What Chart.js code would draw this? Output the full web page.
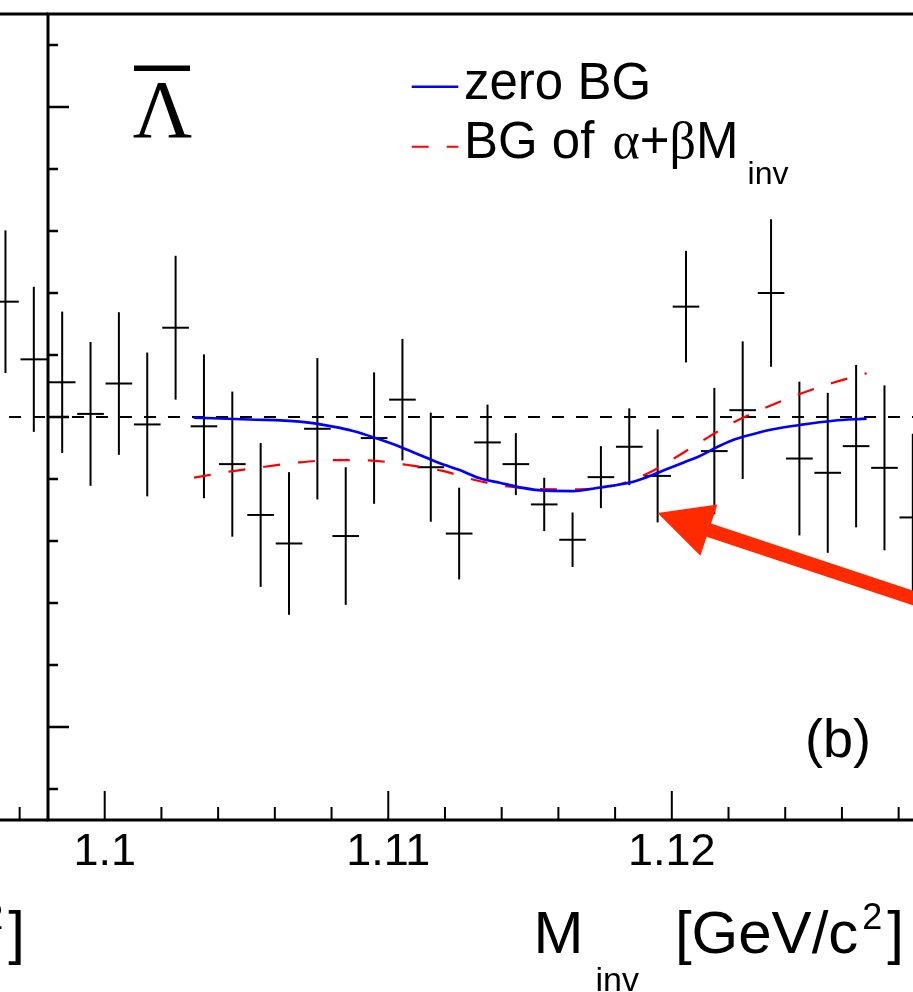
<!DOCTYPE html>
<html>
<head>
<meta charset="utf-8">
<script src="https://cdn.jsdelivr.net/npm/chart.js@4.4.1/dist/chart.umd.min.js"></script>
<style>
  html, body { margin: 0; padding: 0; background: #fff; overflow: hidden; }
  #stage { position: relative; width: 913px; height: 992px; overflow: hidden; background: #fff; }
  .pad { position: absolute; top: 0; }
  .pad canvas { display: block; }
</style>
</head>
<body>
<div id="stage">
  <div class="pad" style="left:-831px;"><canvas id="panelA" width="879" height="992"></canvas></div>
  <div class="pad" style="left:0px;"><canvas id="panelB" width="927" height="992"></canvas></div>
</div>
<script>
// ---- fonts ----
const SANS = '"Liberation Sans", Arial, Helvetica, sans-serif';
const SERIF = '"Liberation Serif", "Times New Roman", Times, serif';

// ---- panel (a): the last two bins of the neighbouring pad ----
const A_MASS  = [1.1275, 1.1285];
const A_RATIO = [1.186, 1.093];
const A_ERR   = [0.115, 0.117];

// ---- panel (b): anti-Lambda ratio per 1 MeV bin ----
const B_MASS = [
  1.0985, 1.0995, 1.1005, 1.1015, 1.1025, 1.1035, 1.1045, 1.1055, 1.1065, 1.1075,
  1.1085, 1.1095, 1.1105, 1.1115, 1.1125, 1.1135, 1.1145, 1.1155, 1.1165, 1.1175,
  1.1185, 1.1195, 1.1205, 1.1215, 1.1225, 1.1235, 1.1245, 1.1255, 1.1265, 1.1275,
  1.1285
];
const B_RATIO = [
  1.056, 1.005, 1.054, 0.988, 1.144, 0.985, 0.924, 0.842, 0.796, 0.981,
  0.808, 0.966, 1.028, 0.919, 0.812, 0.959, 0.924, 0.859, 0.802, 0.903,
  0.952, 0.905, 1.178, 0.945, 1.011, 1.200, 0.933, 0.910, 0.953, 0.918,
  0.838
];
const B_ERR = [
  0.114, 0.116, 0.115, 0.116, 0.116, 0.116, 0.117, 0.116, 0.115, 0.114,
  0.111, 0.106, 0.098, 0.088, 0.074, 0.061, 0.050, 0.043, 0.044, 0.050,
  0.062, 0.075, 0.090, 0.102, 0.111, 0.119, 0.124, 0.129, 0.131, 0.133,
  0.135
];
const BIN_WIDTH = 0.001;

// ---- fit curves ----
const ZERO_BG_MASS = [
  1.10314, 1.10511, 1.10688, 1.10805, 1.10876, 1.10958, 1.11041, 1.11111, 1.11182, 1.11252,
  1.11323, 1.11393, 1.11464, 1.11558, 1.11652, 1.11746, 1.11864, 1.11922, 1.11981, 1.12040,
  1.12099, 1.12158, 1.12216, 1.12275, 1.12357, 1.12451, 1.12569, 1.12687
];
const ZERO_BG_RATIO = [
  0.9989, 0.9960, 0.9924, 0.9844, 0.9774, 0.9656, 0.9521, 0.9387, 0.9253, 0.9145,
  0.9011, 0.8940, 0.8866, 0.8811, 0.8806, 0.8863, 0.8956, 0.9048, 0.9156, 0.9263,
  0.9371, 0.9511, 0.9629, 0.9710, 0.9802, 0.9871, 0.9940, 0.9973
];
const LIN_BG_MASS = [
  1.10315, 1.10438, 1.10564, 1.10688, 1.10817, 1.10946, 1.11070, 1.11188, 1.11305, 1.11422,
  1.11534, 1.11675, 1.11805, 1.11916, 1.12022, 1.12122, 1.12222, 1.12334, 1.12451, 1.12569,
  1.12687
];
const LIN_BG_RATIO = [
  0.9021, 0.9118, 0.9198, 0.9269, 0.9306, 0.9295, 0.9226, 0.9134, 0.8984, 0.8879,
  0.8839, 0.8834, 0.8903, 0.9092, 0.9371, 0.9656, 0.9924, 1.0156, 1.0371, 1.0553,
  1.0705
];

// ---- axes ----
const REF_LEVEL = 1;
const X_RANGE = [1.098, 1.129];
const Y_RANGE = [0.35, 1.65];
const X_MAJOR_TICKS = [1.10, 1.11, 1.12];
const X_TICK_LABELS = ['1.1', '1.11', '1.12'];
const X_MINOR_STEP = 0.002;
const Y_MAJOR_TICKS = [0.5, 1.0, 1.5];
const Y_MINOR_STEP = 0.1;

// ---- annotation arrow (data coordinates) ----
const ARROW_FROM = [1.1295, 0.693];
const ARROW_TO   = [1.1195, 0.845];

// ---------------------------------------------------------------
function points(mass, ratio, err) {
  return mass.map((m, i) => ({ x: m, y: ratio[i], e: err[i] }));
}
function curve(mass, ratio) {
  return mass.map((m, i) => ({ x: m, y: ratio[i] }));
}

// vertical error bars and horizontal bin-width bars, drawn as 'line' point markers
function errorBarDatasets(pts) {
  const common = {
    data: pts, showLine: false, pointStyle: 'line',
    pointBorderColor: '#000', pointBackgroundColor: '#000', pointBorderWidth: 2,
    pointHoverRadius: 0, clip: 0, order: 2
  };
  return [
    Object.assign({}, common, {
      pointRotation: 90,
      pointRadius: c => {
        const p = c.raw; const ys = c.chart.scales.y;
        if (!p) return 0;
        return Math.abs(ys.getPixelForValue(p.y - p.e) - ys.getPixelForValue(p.y + p.e)) / 2;
      }
    }),
    Object.assign({}, common, {
      pointRotation: 0,
      pointRadius: c => {
        const p = c.raw; const xs = c.chart.scales.x;
        if (!p) return 0;
        return Math.abs(xs.getPixelForValue(p.x + BIN_WIDTH * 0.47) - xs.getPixelForValue(p.x - BIN_WIDTH * 0.47)) / 2;
      }
    })
  ];
}

function drawRich(ctx, segs, x, y, align) {
  let total = 0;
  const widths = segs.map(s => {
    ctx.font = s.font;
    const w = ctx.measureText(s.text).width;
    total += (s.gap || 0) + w;
    return w;
  });
  let cx = align === 'right' ? x - total : x;
  ctx.textAlign = 'left';
  ctx.textBaseline = 'alphabetic';
  segs.forEach((s, i) => {
    cx += s.gap || 0;
    ctx.font = s.font;
    ctx.fillText(s.text, cx, y + (s.dy || 0));
    cx += widths[i];
  });
}

function stepValues(min, max, step) {
  const out = [];
  const i0 = Math.ceil(min / step - 1e-6), i1 = Math.floor(max / step + 1e-6);
  for (let i = i0; i <= i1; i++) out.push(+(i * step).toFixed(6));
  return out;
}
const isMajor = (v, list) => list.some(m => Math.abs(m - v) < 1e-6);

const axisTitle = [
  { text: 'M', font: `60px ${SANS}` },
  { text: 'inv', font: `34px ${SANS}`, dy: 38, gap: 12 },
  { text: '[GeV/c', font: `60px ${SANS}`, gap: 36 },
  { text: '2', font: `36px ${SANS}`, dy: -24, gap: 4 },
  { text: ']', font: `60px ${SANS}`, gap: 5 }
];

const rootFrame = {
  id: 'rootFrame',
  beforeDatasetsDraw(chart) {
    const { ctx, chartArea: a, scales: { y } } = chart;
    const yr = y.getPixelForValue(REF_LEVEL);
    ctx.save();
    ctx.strokeStyle = '#000';
    ctx.lineWidth = 2;
    ctx.setLineDash([12, 12]);
    ctx.beginPath();
    ctx.moveTo(a.left, yr);
    ctx.lineTo(a.right, yr);
    ctx.stroke();
    ctx.restore();
  },
  afterDatasetsDraw(chart, args, opts) {
    const { ctx, chartArea: a, scales: { x, y } } = chart;
    ctx.save();
    ctx.strokeStyle = '#000';
    ctx.fillStyle = '#000';
    ctx.setLineDash([]);

    // frame: top edge, x axis, y axis
    ctx.lineWidth = 3;
    ctx.beginPath();
    ctx.moveTo(a.left, a.top); ctx.lineTo(a.right, a.top);
    ctx.moveTo(a.left, a.bottom); ctx.lineTo(a.right, a.bottom);
    ctx.moveTo(a.left, a.top - 1.5); ctx.lineTo(a.left, a.bottom + 1.5);
    ctx.stroke();

    // x ticks (pointing into the frame)
    ctx.lineWidth = 2;
    ctx.beginPath();
    stepValues(X_RANGE[0], X_RANGE[1], X_MINOR_STEP).forEach(v => {
      const px = x.getPixelForValue(v);
      const len = isMajor(v, X_MAJOR_TICKS) ? 29 : 13;
      ctx.moveTo(px, a.bottom); ctx.lineTo(px, a.bottom - len);
    });
    ctx.stroke();

    // y ticks
    ctx.lineWidth = 2.5;
    ctx.beginPath();
    stepValues(Y_RANGE[0], Y_RANGE[1], Y_MINOR_STEP).forEach(v => {
      const py = y.getPixelForValue(v);
      const len = isMajor(v, Y_MAJOR_TICKS) ? 21 : 10;
      ctx.moveTo(a.left, py); ctx.lineTo(a.left + len, py);
    });
    ctx.stroke();

    // x tick labels
    ctx.font = `45px ${SANS}`;
    ctx.textAlign = 'center';
    ctx.textBaseline = 'alphabetic';
    X_MAJOR_TICKS.forEach((v, i) => {
      ctx.fillText(X_TICK_LABELS[i], x.getPixelForValue(v), a.bottom + 45);
    });

    // axis title
    drawRich(ctx, axisTitle, a.right - 23, a.bottom + 133, 'right');

    if (opts.decorate) {
      const L = a.left, T = a.top;

      // particle symbol: anti-Lambda
      ctx.font = `82px ${SERIF}`;
      ctx.textAlign = 'center';
      ctx.fillText('\u039B', L + 114.5, T + 122.7);
      ctx.fillRect(L + 86, T + 51.5, 56, 5.5);

      // legend
      ctx.lineWidth = 2.5;
      ctx.strokeStyle = '#0000ff';
      ctx.beginPath();
      ctx.moveTo(L + 363.7, T + 72.7); ctx.lineTo(L + 410.3, T + 72.7);
      ctx.stroke();
      ctx.lineWidth = 2;
      ctx.strokeStyle = '#ff0000';
      ctx.setLineDash([17, 18]);
      ctx.beginPath();
      ctx.moveTo(L + 363.7, T + 132.7); ctx.lineTo(L + 410.3, T + 132.7);
      ctx.stroke();
      ctx.setLineDash([]);

      ctx.fillStyle = '#000';
      drawRich(ctx, [{ text: 'zero BG', font: `51px ${SANS}` }], L + 416, T + 85, 'left');
      drawRich(ctx, [
        { text: 'BG of ', font: `51px ${SANS}` },
        { text: '\u03B1', font: `52px ${SERIF}`, gap: 4 },
        { text: '+', font: `51px ${SANS}` },
        { text: '\u03B2', font: `52px ${SERIF}` },
        { text: 'M', font: `51px ${SANS}` },
        { text: 'inv', font: `32px ${SANS}`, dy: 26, gap: 9 }
      ], L + 416, T + 144.3, 'left');

      // panel tag
      drawRich(ctx, [{ text: '(b)', font: `54px ${SANS}` }], L + 757, T + 743, 'left');

      // arrow pointing at the bin of interest
      const tip = [x.getPixelForValue(ARROW_TO[0]), y.getPixelForValue(ARROW_TO[1])];
      const tail = [x.getPixelForValue(ARROW_FROM[0]), y.getPixelForValue(ARROW_FROM[1])];
      const dx = tip[0] - tail[0], dy = tip[1] - tail[1];
      const d = Math.hypot(dx, dy), ux = dx / d, uy = dy / d;
      const headLen = 54, headHalf = 27, shaft = 14;
      const bx = tip[0] - ux * headLen, by = tip[1] - uy * headLen;
      ctx.fillStyle = '#ff2a00';
      ctx.strokeStyle = '#ff2a00';
      ctx.lineWidth = shaft;
      ctx.lineCap = 'butt';
      ctx.beginPath();
      ctx.moveTo(tail[0], tail[1]);
      ctx.lineTo(bx + ux * 4, by + uy * 4);
      ctx.stroke();
      ctx.beginPath();
      ctx.moveTo(tip[0], tip[1]);
      ctx.lineTo(bx - uy * headHalf, by + ux * headHalf);
      ctx.lineTo(bx + uy * headHalf, by - ux * headHalf);
      ctx.closePath();
      ctx.fill();
    }
    ctx.restore();
  }
};

function makePanel(canvasId, pts, curves, padLeft, decorate) {
  const datasets = [];
  if (curves) {
    datasets.push({
      label: 'zero BG', data: curve(ZERO_BG_MASS, ZERO_BG_RATIO), showLine: true,
      borderColor: '#0000ff', borderWidth: 2.7, pointRadius: 0,
      cubicInterpolationMode: 'monotone', order: 0
    });
    datasets.push({
      label: 'BG of \u03B1+\u03B2M_inv', data: curve(LIN_BG_MASS, LIN_BG_RATIO), showLine: true,
      borderColor: '#ff0000', borderWidth: 2.2, borderDash: [17, 18], pointRadius: 0,
      cubicInterpolationMode: 'monotone', order: 1
    });
  }
  errorBarDatasets(pts).forEach(d => datasets.push(d));

  return new Chart(document.getElementById(canvasId), {
    type: 'scatter',
    data: { datasets },
    options: {
      responsive: false,
      animation: false,
      devicePixelRatio: 1,
      events: [],
      layout: { padding: { left: padLeft, right: 0, top: 14, bottom: 172 } },
      scales: {
        x: { type: 'linear', min: X_RANGE[0], max: X_RANGE[1], display: false },
        y: { type: 'linear', min: Y_RANGE[0], max: Y_RANGE[1], display: false }
      },
      plugins: {
        legend: { display: false },
        tooltip: { enabled: false },
        rootFrame: { decorate }
      }
    },
    plugins: [rootFrame]
  });
}

makePanel('panelA', points(A_MASS, A_RATIO, A_ERR), false, 0, false);
makePanel('panelB', points(B_MASS, B_RATIO, B_ERR), true, 48, true);
</script>
</body>
</html>
